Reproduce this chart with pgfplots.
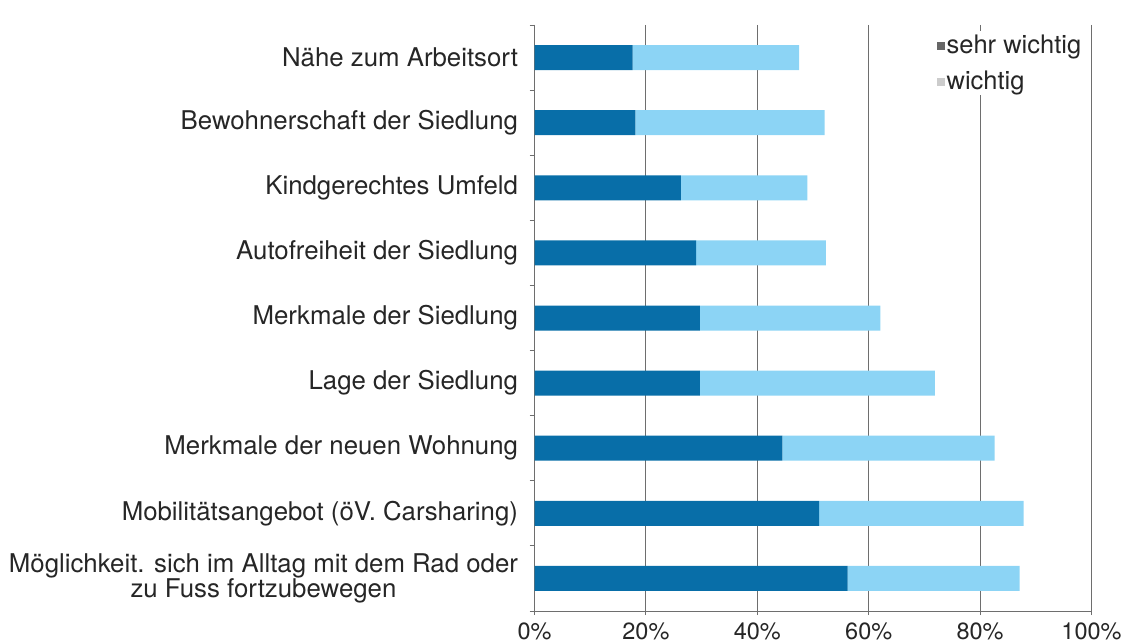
\documentclass[border=0pt]{standalone}
\usepackage{pgfplots}
\pgfplotsset{compat=1.18}
\usepackage{fontspec}
\setmainfont{TeX Gyre Heros}
\definecolor{darkb}{RGB}{8,110,168}
\definecolor{lightb}{RGB}{140,212,245}
\definecolor{gridc}{RGB}{110,110,110}
\begin{document}
\begin{tikzpicture}
\useasboundingbox (0,0) rectangle (1126pt,644pt);
\begin{axis}[
  at={(534.5pt,33pt)}, anchor=south west,
  scale only axis, width=557pt, height=586pt,
  xbar stacked, bar width=25pt,
  y dir=reverse,
  xmin=0, xmax=100, ymin=0.5, ymax=9.5,
  axis x line*=bottom, axis y line*=left,
  axis line style={draw=gridc, line width=0.9pt, -},
  xtick={0,20,40,60,80,100},
  xticklabels={0\%,20\%,40\%,60\%,80\%,100\%},
  xmajorgrids, major grid style={draw=gridc, line width=0.9pt},
  tick align=outside, major tick length=4pt, minor tick length=5pt,
  major x tick style={draw=gridc, line width=0.9pt},
  ytick={1,...,9},
  minor ytick={0.5,1.5,...,9.5},
  major y tick style={draw=none},
  minor y tick style={draw=gridc, line width=0.9pt},
  yticklabels={N\"ahe zum Arbeitsort, Bewohnerschaft der Siedlung, Kindgerechtes Umfeld, Autofreiheit der Siedlung, Merkmale der Siedlung, Lage der Siedlung, Merkmale der neuen Wohnung, {Mobilit\"atsangebot (\"oV. Carsharing)}, {M\"oglichkeit. sich im Alltag mit dem Rad oder\\zu Fuss fortzubewegen}},
  yticklabel style={font=\fontsize{25.8}{23.5}\selectfont, align=center, xshift=-9pt, text=black!85},
  xticklabel style={font=\fontsize{23.5}{26}\selectfont, text=black!85, yshift=-4pt},
  legend style={at={(0.718,0.99)}, anchor=north west, draw=none, fill=white,
    font=\fontsize{25.5}{28}\selectfont, row sep=12pt, inner sep=2pt,
    legend cell align=left, text=black!85},
]
\addplot[fill=darkb, draw=none, legend image code/.code={\fill[black!60] (0pt,-5pt) rectangle (8pt,3pt);}] coordinates {
(17.6,1) (18.1,2) (26.3,3) (29.0,4) (29.7,5) (29.7,6) (44.5,7) (51.1,8) (56.2,9)};
\addlegendentry{sehr wichtig}
\addplot[fill=lightb, draw=none, legend image code/.code={\fill[black!20] (0pt,-5pt) rectangle (8pt,3pt);}] coordinates {
(29.9,1) (34.0,2) (22.7,3) (23.3,4) (32.4,5) (42.2,6) (38.1,7) (36.7,8) (30.9,9)};
\addlegendentry{wichtig}
\end{axis}
\end{tikzpicture}
\end{document}
